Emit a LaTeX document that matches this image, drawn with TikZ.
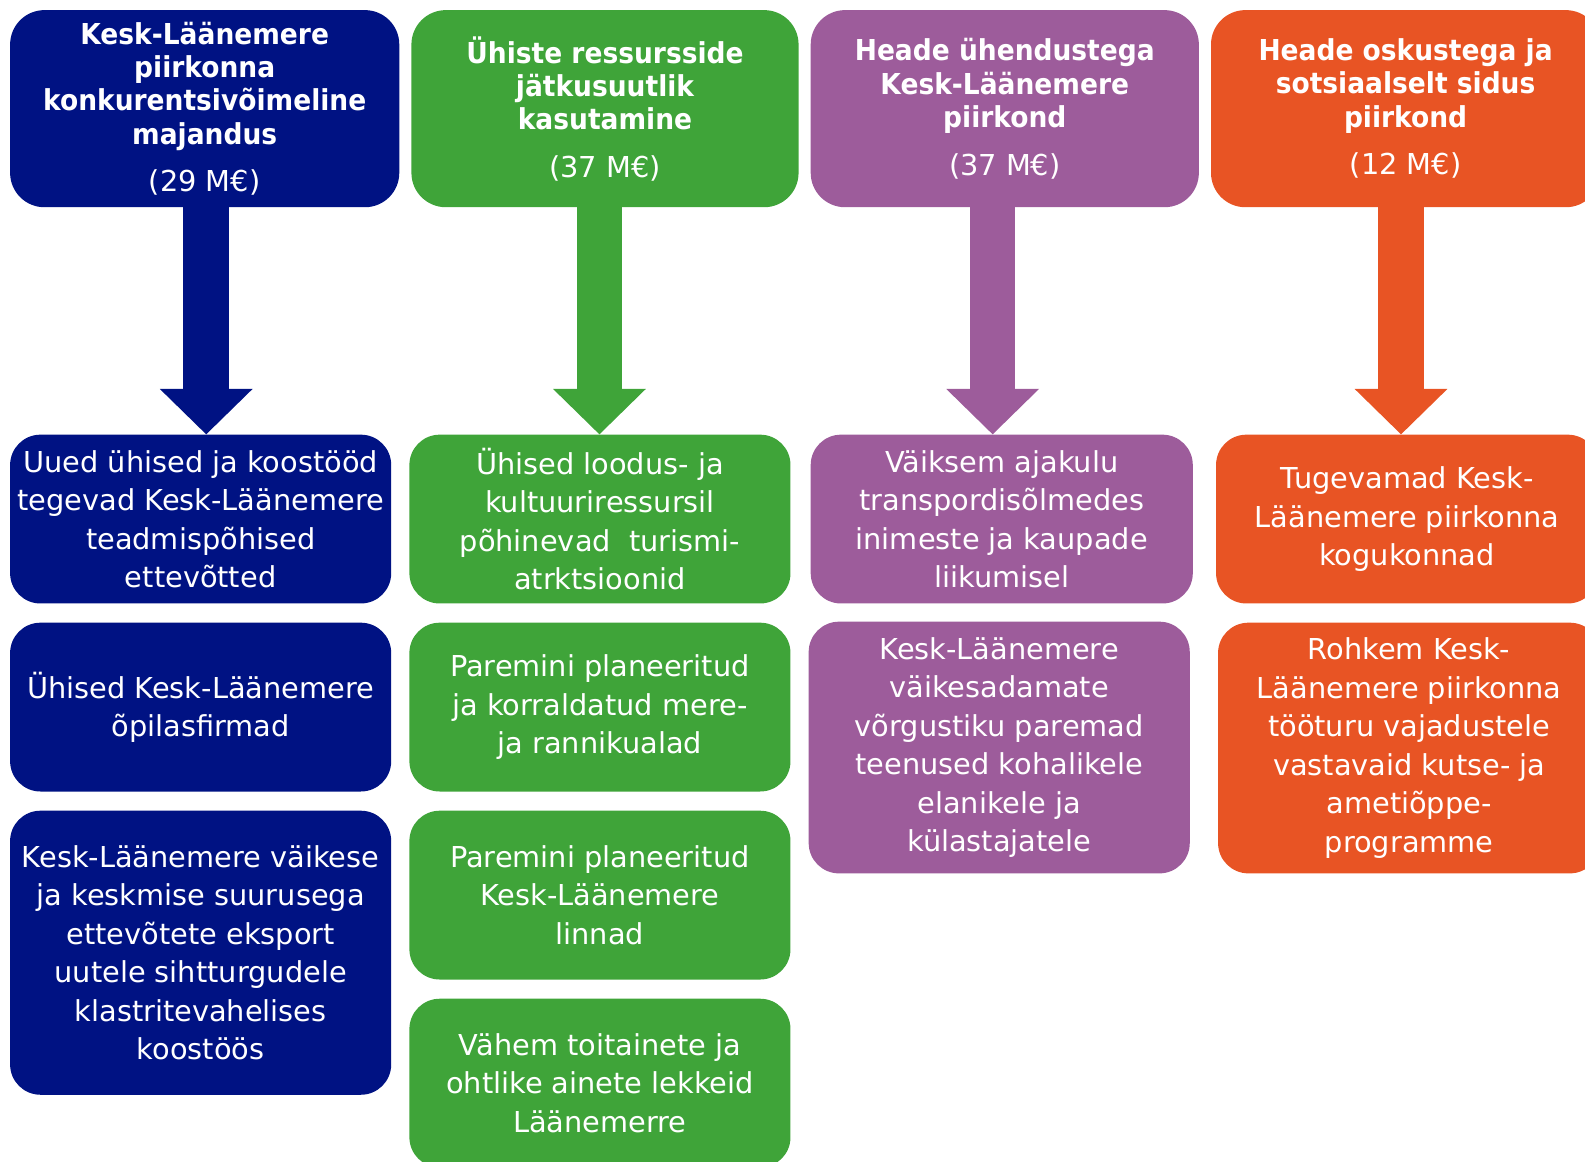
\documentclass[tikz,border=0pt]{standalone}
\usepackage{fontspec}
\setmainfont{DejaVu Sans}
\newfontfamily\hb{DejaVu Sans}[FakeStretch=0.92]
\usetikzlibrary{arrows.meta}
\definecolor{cblue}{HTML}{001283}
\definecolor{cgreen}{HTML}{3FA439}
\definecolor{cpurple}{HTML}{9D5C9B}
\definecolor{corange}{HTML}{E85424}
\begin{document}
\begin{tikzpicture}[x=1pt,y=-1pt,
  box/.style={fill=#1, rounded corners=30pt, text=white, align=center, inner sep=0pt,
    font=\fontsize{28.5}{38}\selectfont},
  topbox/.style={box=#1, rounded corners=34pt, font=\hb\bfseries\fontsize{28.5}{33}\selectfont},
  down/.style={draw=#1, line width=45pt, -{Triangle[width=89pt,length=45pt]}}]
\useasboundingbox (0,0) rectangle (1568,1149);
\clip (0,0) rectangle (1568,1149);
% top row
\node[topbox=cblue, minimum width=385pt, minimum height=195pt] (t1) at (202.5,107.5)
  {Kesk-Läänemere\\piirkonna\\konkurentsivõimeline\\majandus\\[14pt]{\normalfont\fontsize{28.5}{33}\selectfont (29 M€)}};
\node[topbox=cgreen, minimum width=383pt, minimum height=195pt] (t2) at (598.5,107.5)
  {Ühiste ressursside\\jätkusuutlik\\kasutamine\\[14pt]{\normalfont\fontsize{28.5}{33}\selectfont (37 M€)}};
\node[topbox=cpurple, minimum width=384pt, minimum height=195pt] (t3) at (994,107.5)
  {Heade ühendustega\\Kesk-Läänemere\\piirkond\\[14pt]{\normalfont\fontsize{28.5}{33}\selectfont (37 M€)}};
\node[topbox=corange, minimum width=385pt, minimum height=195pt] (t4) at (1390.5,107.5)
  {Heade oskustega ja\\sotsiaalselt sidus\\piirkond\\[14pt]{\normalfont\fontsize{28.5}{33}\selectfont (12 M€)}};
% blue column
\node[box=cblue, minimum width=377pt, minimum height=167pt] (b1) at (198.5,513.5)
  {Uued ühised ja koostööd\\tegevad Kesk-Läänemere\\teadmispõhised\\ettevõtted};
\node[box=cblue, minimum width=377pt, minimum height=167pt] (b2) at (198.5,699.5)
  {Ühised Kesk-Läänemere\\õpilasfirmad};
\node[box=cblue, minimum width=377pt, minimum height=281pt] (b3) at (198.5,942.5)
  {Kesk-Läänemere väikese\\ja keskmise suurusega\\ettevõtete eksport\\uutele sihtturgudele\\klastritevahelises\\koostöös};
% green column
\node[box=cgreen, minimum width=377pt, minimum height=167pt] (g1) at (593.5,513.5)
  {Ühised loodus- ja\\kultuuriressursil\\põhinevad~ turismi-\\atrktsioonid};
\node[box=cgreen, minimum width=377pt, minimum height=167pt] (g2) at (593.5,699.5)
  {Paremini planeeritud\\ja korraldatud mere-\\ja rannikualad};
\node[box=cgreen, minimum width=377pt, minimum height=167pt] (g3) at (593.5,885.5)
  {Paremini planeeritud\\Kesk-Läänemere\\linnad};
\node[box=cgreen, minimum width=377pt, minimum height=167pt] (g4) at (593.5,1071.5)
  {Vähem toitainete ja\\ohtlike ainete lekkeid\\Läänemerre};
% purple column
\node[box=cpurple, minimum width=378pt, minimum height=167pt] (p1) at (991,513.5)
  {Väiksem ajakulu\\transpordisõlmedes\\inimeste ja kaupade\\liikumisel};
\node[box=cpurple, minimum width=377pt, minimum height=249pt] (p2) at (988.5,739.5)
  {Kesk-Läänemere\\väikesadamate\\võrgustiku paremad\\teenused kohalikele\\elanikele ja\\külastajatele};
% orange column
\node[box=corange, minimum width=378pt, minimum height=167pt] (o1) at (1392,513.5)
  {Tugevamad Kesk-\\Läänemere piirkonna\\kogukonnad};
\node[box=corange, minimum width=378pt, minimum height=248pt] (o2) at (1394,740)
  {Rohkem Kesk-\\Läänemere piirkonna\\tööturu vajadustele\\vastavaid kutse- ja\\ametiõppe-\\programme};
% arrows
\draw[down=cblue] ([xshift=1.5pt]t1.south) -- ([xshift=1.5pt]t1.south |- b1.north);
\draw[down=cgreen] ([xshift=-5.5pt]t2.south) -- ([xshift=-5.5pt]t2.south |- g1.north);
\draw[down=cpurple] ([xshift=-12pt]t3.south) -- ([xshift=-12pt]t3.south |- p1.north);
\draw[down=corange] ([xshift=-4.5pt]t4.south) -- ([xshift=-4.5pt]t4.south |- o1.north);
\end{tikzpicture}
\end{document}
